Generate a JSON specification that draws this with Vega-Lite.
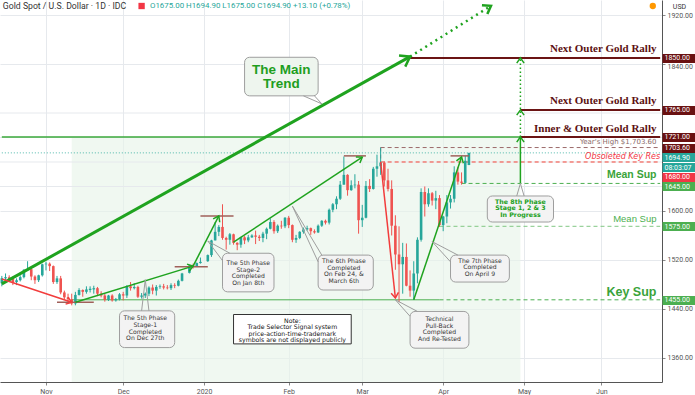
{
"$schema": "https://vega.github.io/schema/vega-lite/v6.json",
"width": 662, "height": 382,
"autosize": {"type": "none"},
"padding": {"left": 0, "top": 0, "right": 33, "bottom": 13},
"background": "#ffffff",
"config": {"view": {"stroke": null}, "font": "Roboto"},
"datasets": {
"candles": [
{"date":"2019-10-16","open":1482,"high":1494,"low":1477,"close":1490},
{"date":"2019-10-17","open":1490,"high":1498,"low":1484,"close":1492},
{"date":"2019-10-18","open":1492,"high":1495,"low":1484,"close":1489},
{"date":"2019-10-21","open":1489,"high":1493,"low":1479,"close":1484},
{"date":"2019-10-22","open":1484,"high":1490,"low":1479,"close":1487},
{"date":"2019-10-23","open":1487,"high":1495,"low":1485,"close":1492},
{"date":"2019-10-24","open":1492,"high":1505,"low":1490,"close":1504},
{"date":"2019-10-25","open":1504,"high":1518,"low":1502,"close":1505},
{"date":"2019-10-28","open":1505,"high":1507,"low":1487,"close":1493},
{"date":"2019-10-29","open":1493,"high":1495,"low":1481,"close":1487},
{"date":"2019-10-30","open":1487,"high":1496,"low":1484,"close":1495},
{"date":"2019-10-31","open":1495,"high":1514,"low":1493,"close":1513},
{"date":"2019-11-01","open":1513,"high":1517,"low":1503,"close":1514},
{"date":"2019-11-04","open":1514,"high":1516,"low":1502,"close":1510},
{"date":"2019-11-05","open":1510,"high":1511,"low":1481,"close":1484},
{"date":"2019-11-06","open":1484,"high":1494,"low":1481,"close":1490},
{"date":"2019-11-07","open":1490,"high":1494,"low":1464,"close":1467},
{"date":"2019-11-08","open":1467,"high":1470,"low":1456,"close":1459},
{"date":"2019-11-11","open":1459,"high":1465,"low":1450,"close":1456},
{"date":"2019-11-12","open":1456,"high":1465,"low":1446,"close":1449},
{"date":"2019-11-13","open":1449,"high":1468,"low":1446,"close":1463},
{"date":"2019-11-14","open":1463,"high":1474,"low":1462,"close":1471},
{"date":"2019-11-15","open":1471,"high":1472,"low":1460,"close":1468},
{"date":"2019-11-18","open":1468,"high":1477,"low":1465,"close":1472},
{"date":"2019-11-19","open":1471,"high":1477,"low":1467,"close":1473},
{"date":"2019-11-20","open":1472,"high":1478,"low":1465,"close":1474},
{"date":"2019-11-21","open":1474,"high":1476,"low":1461,"close":1465},
{"date":"2019-11-22","open":1465,"high":1469,"low":1459,"close":1462},
{"date":"2019-11-25","open":1462,"high":1465,"low":1452,"close":1455},
{"date":"2019-11-26","open":1455,"high":1463,"low":1453,"close":1462},
{"date":"2019-11-27","open":1462,"high":1464,"low":1452,"close":1454},
{"date":"2019-11-28","open":1454,"high":1458,"low":1452,"close":1456},
{"date":"2019-11-29","open":1456,"high":1466,"low":1454,"close":1464},
{"date":"2019-12-02","open":1464,"high":1468,"low":1454,"close":1462},
{"date":"2019-12-03","open":1462,"high":1479,"low":1458,"close":1477},
{"date":"2019-12-04","open":1477,"high":1484,"low":1470,"close":1474},
{"date":"2019-12-05","open":1474,"high":1482,"low":1472,"close":1476},
{"date":"2019-12-06","open":1476,"high":1478,"low":1458,"close":1460},
{"date":"2019-12-09","open":1460,"high":1466,"low":1457,"close":1462},
{"date":"2019-12-10","open":1462,"high":1467,"low":1458,"close":1465},
{"date":"2019-12-11","open":1465,"high":1477,"low":1461,"close":1475},
{"date":"2019-12-12","open":1475,"high":1480,"low":1464,"close":1470},
{"date":"2019-12-13","open":1470,"high":1479,"low":1462,"close":1476},
{"date":"2019-12-16","open":1476,"high":1480,"low":1473,"close":1477},
{"date":"2019-12-17","open":1477,"high":1481,"low":1472,"close":1475},
{"date":"2019-12-18","open":1475,"high":1479,"low":1472,"close":1474},
{"date":"2019-12-19","open":1474,"high":1482,"low":1471,"close":1479},
{"date":"2019-12-20","open":1479,"high":1482,"low":1474,"close":1478},
{"date":"2019-12-23","open":1478,"high":1488,"low":1477,"close":1486},
{"date":"2019-12-24","open":1486,"high":1499,"low":1485,"close":1498},
{"date":"2019-12-26","open":1499,"high":1512,"low":1498,"close":1511},
{"date":"2019-12-27","open":1511,"high":1514,"low":1506,"close":1510},
{"date":"2019-12-30","open":1510,"high":1516,"low":1509,"close":1515},
{"date":"2019-12-31","open":1515,"high":1524,"low":1514,"close":1517},
{"date":"2020-01-02","open":1518,"high":1529,"low":1517,"close":1528},
{"date":"2020-01-03","open":1528,"high":1553,"low":1525,"close":1552},
{"date":"2020-01-06","open":1552,"high":1582,"low":1552,"close":1566},
{"date":"2020-01-07","open":1566,"high":1577,"low":1559,"close":1574},
{"date":"2020-01-08","open":1574,"high":1611,"low":1553,"close":1556},
{"date":"2020-01-09","open":1556,"high":1558,"low":1537,"close":1553},
{"date":"2020-01-10","open":1553,"high":1564,"low":1545,"close":1562},
{"date":"2020-01-13","open":1562,"high":1563,"low":1545,"close":1548},
{"date":"2020-01-14","open":1548,"high":1549,"low":1536,"close":1545},
{"date":"2020-01-15","open":1545,"high":1558,"low":1540,"close":1557},
{"date":"2020-01-16","open":1557,"high":1559,"low":1546,"close":1552},
{"date":"2020-01-17","open":1552,"high":1561,"low":1549,"close":1557},
{"date":"2020-01-20","open":1557,"high":1562,"low":1556,"close":1560},
{"date":"2020-01-21","open":1560,"high":1568,"low":1546,"close":1558},
{"date":"2020-01-22","open":1558,"high":1561,"low":1551,"close":1556},
{"date":"2020-01-23","open":1556,"high":1566,"low":1549,"close":1563},
{"date":"2020-01-24","open":1563,"high":1573,"low":1554,"close":1571},
{"date":"2020-01-27","open":1571,"high":1588,"low":1570,"close":1582},
{"date":"2020-01-28","open":1582,"high":1585,"low":1563,"close":1567},
{"date":"2020-01-29","open":1567,"high":1578,"low":1564,"close":1576},
{"date":"2020-01-30","open":1576,"high":1584,"low":1571,"close":1575},
{"date":"2020-01-31","open":1575,"high":1590,"low":1572,"close":1589},
{"date":"2020-02-03","open":1589,"high":1592,"low":1572,"close":1577},
{"date":"2020-02-04","open":1577,"high":1578,"low":1549,"close":1553},
{"date":"2020-02-05","open":1553,"high":1561,"low":1548,"close":1556},
{"date":"2020-02-06","open":1556,"high":1567,"low":1554,"close":1566},
{"date":"2020-02-07","open":1566,"high":1573,"low":1563,"close":1570},
{"date":"2020-02-10","open":1570,"high":1576,"low":1568,"close":1572},
{"date":"2020-02-11","open":1572,"high":1573,"low":1561,"close":1567},
{"date":"2020-02-12","open":1567,"high":1570,"low":1563,"close":1565},
{"date":"2020-02-13","open":1565,"high":1578,"low":1564,"close":1576},
{"date":"2020-02-14","open":1576,"high":1585,"low":1574,"close":1584},
{"date":"2020-02-17","open":1584,"high":1586,"low":1578,"close":1581},
{"date":"2020-02-18","open":1581,"high":1604,"low":1578,"close":1602},
{"date":"2020-02-19","open":1602,"high":1613,"low":1598,"close":1611},
{"date":"2020-02-20","open":1611,"high":1624,"low":1603,"close":1620},
{"date":"2020-02-21","open":1620,"high":1649,"low":1618,"close":1643},
{"date":"2020-02-24","open":1643,"high":1689,"low":1643,"close":1659},
{"date":"2020-02-25","open":1659,"high":1660,"low":1625,"close":1634},
{"date":"2020-02-26","open":1634,"high":1650,"low":1633,"close":1642},
{"date":"2020-02-27","open":1642,"high":1660,"low":1637,"close":1643},
{"date":"2020-02-28","open":1643,"high":1649,"low":1563,"close":1585},
{"date":"2020-03-02","open":1585,"high":1610,"low":1574,"close":1589},
{"date":"2020-03-03","open":1589,"high":1649,"low":1588,"close":1641},
{"date":"2020-03-04","open":1641,"high":1652,"low":1631,"close":1636},
{"date":"2020-03-05","open":1636,"high":1672,"low":1635,"close":1669},
{"date":"2020-03-06","open":1669,"high":1692,"low":1656,"close":1673},
{"date":"2020-03-09","open":1673,"high":1703.6,"low":1659,"close":1679},
{"date":"2020-03-10","open":1679,"high":1681,"low":1640,"close":1650},
{"date":"2020-03-11","open":1650,"high":1669,"low":1632,"close":1636},
{"date":"2020-03-12","open":1636,"high":1650,"low":1560,"close":1576},
{"date":"2020-03-13","open":1576,"high":1593,"low":1504,"close":1529},
{"date":"2020-03-16","open":1529,"high":1575,"low":1451,"close":1513},
{"date":"2020-03-17","open":1513,"high":1548,"low":1465,"close":1525},
{"date":"2020-03-18","open":1525,"high":1547,"low":1477,"close":1478},
{"date":"2020-03-19","open":1478,"high":1503,"low":1460,"close":1470},
{"date":"2020-03-20","open":1470,"high":1518,"low":1455,"close":1498},
{"date":"2020-03-23","open":1498,"high":1557,"low":1482,"close":1553},
{"date":"2020-03-24","open":1553,"high":1637,"low":1550,"close":1631},
{"date":"2020-03-25","open":1631,"high":1640,"low":1591,"close":1611},
{"date":"2020-03-26","open":1611,"high":1637,"low":1607,"close":1629},
{"date":"2020-03-27","open":1629,"high":1631,"low":1609,"close":1617},
{"date":"2020-03-30","open":1617,"high":1633,"low":1603,"close":1621},
{"date":"2020-03-31","open":1621,"high":1626,"low":1574,"close":1577},
{"date":"2020-04-01","open":1577,"high":1592,"low":1567,"close":1591},
{"date":"2020-04-02","open":1591,"high":1626,"low":1580,"close":1614},
{"date":"2020-04-03","open":1614,"high":1626,"low":1604,"close":1620},
{"date":"2020-04-06","open":1620,"high":1673,"low":1614,"close":1663},
{"date":"2020-04-07","open":1663,"high":1672,"low":1643,"close":1648},
{"date":"2020-04-08","open":1648,"high":1663,"low":1643,"close":1646},
{"date":"2020-04-09","open":1646,"high":1690,"low":1645,"close":1682},
{"date":"2020-04-10","open":1675,"high":1694.9,"low":1675,"close":1694.9}
],
"lines": [
{"name":"l1850","date":"2020-03-19","price":1850},{"name":"l1850","date":"2020-06-23","price":1850},
{"name":"l1765","date":"2020-04-30","price":1765},{"name":"l1765","date":"2020-06-23","price":1765},
{"name":"l1721r","date":"2020-04-30","price":1721},{"name":"l1721r","date":"2020-06-23","price":1721},
{"name":"l1721g","date":"2019-10-16","price":1721},{"name":"l1721g","date":"2020-04-30","price":1721},
{"name":"l1455s","date":"2019-11-12","price":1455},{"name":"l1455s","date":"2020-03-31","price":1455},
{"name":"l1703","date":"2020-03-09","price":1703.6},{"name":"l1703","date":"2020-06-23","price":1703.6},
{"name":"l1703v","date":"2020-03-09","price":1703.6},{"name":"l1703v","date":"2020-03-09","price":1680},
{"name":"l1680","date":"2020-03-09","price":1680},{"name":"l1680","date":"2020-06-23","price":1680},
{"name":"l1645","date":"2020-04-08","price":1645},{"name":"l1645","date":"2020-06-23","price":1645},
{"name":"l1575","date":"2020-03-31","price":1575},{"name":"l1575","date":"2020-06-23","price":1575},
{"name":"l1455d","date":"2020-03-31","price":1455},{"name":"l1455d","date":"2020-06-23","price":1455},
{"name":"l1695","date":"2019-10-16","price":1694.9},{"name":"l1695","date":"2020-06-23","price":1694.9},
{"name":"main","date":"2019-10-16","price":1481},{"name":"main","date":"2020-03-19","price":1852},
{"name":"mainDot","date":"2020-03-19","price":1852},{"name":"mainDot","date":"2020-04-20","price":1935},
{"name":"red1","date":"2019-10-16","price":1489},{"name":"red1","date":"2019-11-12","price":1451},
{"name":"red5","date":"2020-03-09","price":1680},{"name":"red5","date":"2020-03-13","price":1458},
{"name":"g2","date":"2019-11-13","price":1451},{"name":"g2","date":"2019-12-27","price":1510},
{"name":"g3","date":"2019-12-27","price":1510},{"name":"g3","date":"2020-01-07","price":1592},
{"name":"g4","date":"2020-01-13","price":1549},{"name":"g4","date":"2020-03-02","price":1688},
{"name":"g6","date":"2020-03-20","price":1455},{"name":"g6","date":"2020-04-08","price":1688},
{"name":"v8","date":"2020-04-30","price":1645},{"name":"v8","date":"2020-04-30","price":1721},
{"name":"v8dot","date":"2020-04-30","price":1721},{"name":"v8dot","date":"2020-04-30","price":1850},
{"name":"m1","date":"2019-11-06","price":1451},{"name":"m1","date":"2019-11-20","price":1451},
{"name":"m2","date":"2019-12-20","price":1509},{"name":"m2","date":"2020-01-02","price":1509},
{"name":"m3","date":"2019-12-31","price":1592},{"name":"m3","date":"2020-01-13","price":1592},
{"name":"m4","date":"2020-02-24","price":1690},{"name":"m4","date":"2020-03-03","price":1690},
{"name":"m6","date":"2020-04-03","price":1690},{"name":"m6","date":"2020-04-10","price":1690}
],
"tips": [
{"name":"main","date":"2020-03-19","price":1852},
{"name":"mainDot","date":"2020-04-20","price":1935},
{"name":"red1","date":"2019-11-12","price":1451},
{"name":"g2","date":"2019-12-27","price":1510},
{"name":"g3","date":"2020-01-07","price":1592},
{"name":"g4","date":"2020-03-02","price":1688},
{"name":"red5","date":"2020-03-13","price":1458},
{"name":"g6","date":"2020-04-08","price":1688},
{"name":"v1","date":"2020-04-30","price":1721},
{"name":"v2","date":"2020-04-30","price":1765},
{"name":"v3","date":"2020-04-30","price":1850}
],
"boxes": [
{"name":"main","start":"2020-01-16","end":"2020-02-13","top":1851,"bottom":1788},
{"name":"s1","start":"2019-11-29","end":"2019-12-20","top":1437,"bottom":1377},
{"name":"s2","start":"2020-01-08","end":"2020-01-28","top":1531,"bottom":1468},
{"name":"p6","start":"2020-02-13","end":"2020-03-05","top":1528,"bottom":1471},
{"name":"tp","start":"2020-03-19","end":"2020-04-10","top":1436,"bottom":1376},
{"name":"p7","start":"2020-04-03","end":"2020-04-27","top":1528,"bottom":1484},
{"name":"p8","start":"2020-04-17","end":"2020-05-13","top":1624.5,"bottom":1582},
{"name":"note","start":"2020-01-13","end":"2020-02-26","top":1431,"bottom":1383}
],
"tails": [
{"name":"main","ord":1,"date":"2020-02-07","price":1788},{"name":"main","ord":2,"date":"2020-02-14","price":1775},{"name":"main","ord":3,"date":"2020-02-12","price":1788},
{"name":"s1","ord":1,"date":"2019-12-09","price":1437},{"name":"s1","ord":2,"date":"2019-12-10","price":1488},{"name":"s1","ord":3,"date":"2019-12-11","price":1437},
{"name":"s2","ord":1,"date":"2020-01-08","price":1519},{"name":"s2","ord":2,"date":"2020-01-02","price":1551},{"name":"s2","ord":3,"date":"2020-01-10","price":1531},
{"name":"p6","ord":1,"date":"2020-02-13","price":1517},{"name":"p6","ord":2,"date":"2020-02-04","price":1608},{"name":"p6","ord":3,"date":"2020-02-14","price":1528},
{"name":"tp","ord":1,"date":"2020-03-19","price":1428},{"name":"tp","ord":2,"date":"2020-03-13","price":1455},{"name":"tp","ord":3,"date":"2020-03-23","price":1436},
{"name":"p7","ord":1,"date":"2020-04-03","price":1517},{"name":"p7","ord":2,"date":"2020-03-27","price":1550},{"name":"p7","ord":3,"date":"2020-04-07","price":1528},
{"name":"p8","ord":1,"date":"2020-04-29","price":1624.5},{"name":"p8","ord":2,"date":"2020-04-30","price":1645},{"name":"p8","ord":3,"date":"2020-05-01","price":1624.5}
],
"notes": [
{"name":"main","date":"2020-01-30","price":1830,"text":"The Main\nTrend"},
{"name":"s1","date":"2019-12-10","price":1424.5,"text":"The 5th Phase\nStage-1\nCompleted\nOn Dec 27th"},
{"name":"s2","date":"2020-01-17","price":1515,"text":"The 5th Phase\nStage-2\nCompleted\nOn Jan 8th"},
{"name":"p6","date":"2020-02-24","price":1518.4,"text":"The 6th Phase\nCompleted\nOn Feb 24, &\nMarch 6th"},
{"name":"note","date":"2020-02-04","price":1421,"text":"Note:\nTrade Selector Signal system\nprice-action-time-trademark\nsymbols are not displayed publicly"},
{"name":"tp","date":"2020-03-31","price":1423.2,"text":"Technical\nPull-Back\nCompleted\nAnd Re-Tested"},
{"name":"p7","date":"2020-04-15","price":1518.9,"text":"The 7th Phase\nCompleted\nOn April 9"},
{"name":"p8","date":"2020-04-30","price":1615.2,"text":"The 8th Phase\nStage 1, 2 & 3\nIn Progress"}
],
"rlabels": [
{"name":"rally","date":"2020-06-22","price":1864,"text":"Next Outer Gold Rally"},
{"name":"rally","date":"2020-06-22","price":1779.5,"text":"Next Outer Gold Rally"},
{"name":"rally","date":"2020-06-22","price":1734,"text":"Inner & Outer Gold Rally"},
{"name":"high","date":"2020-06-22","price":1712.7,"text":"Year's High $1,703.60"},
{"name":"obs","date":"2020-06-23","price":1688,"text":"Obsoleted Key Res"},
{"name":"mean1","date":"2020-06-22","price":1659,"text":"Mean Sup"},
{"name":"mean2","date":"2020-06-22","price":1587,"text":"Mean Sup"},
{"name":"key","date":"2020-06-22","price":1468,"text":"Key Sup"}
],
"header": [
{"name":"title","date":"2019-10-16","price":1934.7,"text":"Gold Spot / U.S. Dollar · 1D · IDC"},
{"name":"ohlc","date":"2019-12-11","price":1934.7,"text":"O1675.00 H1694.90 L1675.00 C1694.90 +13.10 (+0.78%)"}
],
"icons": [
{"name":"closed","date":"2019-12-09","price":1934.7},
{"name":"alert","date":"2020-06-19","price":1934.7}
]
},
"layer": [
{"layer": [
{
"data": {"values": [{"start": "2019-11-12", "end": "2020-04-30", "top": 1721, "bottom": 1320.8}]},
"mark": {"type": "rect", "color": "#e8f5e9", "opacity": 0.65},
"encoding": {
"x": {"field": "start", "type": "ordinal",
"scale": {"type": "point", "padding": 0.5, "domain": [
"2019-10-16","2019-10-17","2019-10-18","2019-10-21","2019-10-22","2019-10-23","2019-10-24","2019-10-25","2019-10-28","2019-10-29","2019-10-30","2019-10-31",
"2019-11-01","2019-11-04","2019-11-05","2019-11-06","2019-11-07","2019-11-08","2019-11-11","2019-11-12","2019-11-13","2019-11-14","2019-11-15","2019-11-18","2019-11-19","2019-11-20","2019-11-21","2019-11-22","2019-11-25","2019-11-26","2019-11-27","2019-11-28","2019-11-29",
"2019-12-02","2019-12-03","2019-12-04","2019-12-05","2019-12-06","2019-12-09","2019-12-10","2019-12-11","2019-12-12","2019-12-13","2019-12-16","2019-12-17","2019-12-18","2019-12-19","2019-12-20","2019-12-23","2019-12-24","2019-12-25","2019-12-26","2019-12-27","2019-12-30","2019-12-31",
"2020-01-01","2020-01-02","2020-01-03","2020-01-06","2020-01-07","2020-01-08","2020-01-09","2020-01-10","2020-01-13","2020-01-14","2020-01-15","2020-01-16","2020-01-17","2020-01-20","2020-01-21","2020-01-22","2020-01-23","2020-01-24","2020-01-27","2020-01-28","2020-01-29","2020-01-30","2020-01-31",
"2020-02-03","2020-02-04","2020-02-05","2020-02-06","2020-02-07","2020-02-10","2020-02-11","2020-02-12","2020-02-13","2020-02-14","2020-02-17","2020-02-18","2020-02-19","2020-02-20","2020-02-21","2020-02-24","2020-02-25","2020-02-26","2020-02-27","2020-02-28",
"2020-03-02","2020-03-03","2020-03-04","2020-03-05","2020-03-06","2020-03-09","2020-03-10","2020-03-11","2020-03-12","2020-03-13","2020-03-16","2020-03-17","2020-03-18","2020-03-19","2020-03-20","2020-03-23","2020-03-24","2020-03-25","2020-03-26","2020-03-27","2020-03-30","2020-03-31",
"2020-04-01","2020-04-02","2020-04-03","2020-04-06","2020-04-07","2020-04-08","2020-04-09","2020-04-10","2020-04-13","2020-04-14","2020-04-15","2020-04-16","2020-04-17","2020-04-20","2020-04-21","2020-04-22","2020-04-23","2020-04-24","2020-04-27","2020-04-28","2020-04-29","2020-04-30",
"2020-05-01","2020-05-04","2020-05-05","2020-05-06","2020-05-07","2020-05-08","2020-05-11","2020-05-12","2020-05-13","2020-05-14","2020-05-15","2020-05-18","2020-05-19","2020-05-20","2020-05-21","2020-05-22","2020-05-25","2020-05-26","2020-05-27","2020-05-28","2020-05-29",
"2020-06-01","2020-06-02","2020-06-03","2020-06-04","2020-06-05","2020-06-08","2020-06-09","2020-06-10","2020-06-11","2020-06-12","2020-06-15","2020-06-16","2020-06-17","2020-06-18","2020-06-19","2020-06-22","2020-06-23"]},
"axis": {"title": null, "orient": "bottom", "zindex": 0,
"values": ["2019-11-01","2019-12-02","2020-01-01","2020-02-03","2020-03-02","2020-04-01","2020-05-01","2020-06-01"],
"labelExpr": "datum.value == '2019-11-01' ? 'Nov' : datum.value == '2019-12-02' ? 'Dec' : datum.value == '2020-01-01' ? '2020' : datum.value == '2020-02-03' ? 'Feb' : datum.value == '2020-03-02' ? 'Mar' : datum.value == '2020-04-01' ? 'Apr' : datum.value == '2020-05-01' ? 'May' : 'Jun'",
"grid": true, "gridColor": "#e6e9ed", "tickSize": 3, "tickColor": "#888888", "domainColor": "#555555",
"labelFontSize": 7, "labelColor": "#555555", "labelPadding": 2, "labelAngle": 0, "labelOverlap": false, "labelFlush": false, "labelFont": "Roboto"}},
"x2": {"field": "end"},
"y": {"field": "top", "type": "quantitative",
"scale": {"domain": [1320.8, 1944.5], "nice": false, "zero": false},
"axis": {"title": "USD", "orient": "right", "zindex": 0,
"values": [1360,1400,1440,1480,1520,1560,1600,1800,1840,1880,1920],
"format": ".2f", "grid": true, "gridColor": "#e6e9ed", "tickSize": 3, "tickColor": "#888888", "domainColor": "#555555",
"labelFontSize": 7, "labelColor": "#555555", "labelPadding": 2, "labelOverlap": false, "labelFlush": false, "labelBound": false, "labelFont": "Roboto",
"labelOffset": {"condition": {"test": "datum.value == 1840", "value": 2}, "value": 0},
"titleAngle": 0, "titleX": 17, "titleY": 6, "titleAlign": "center", "titleBaseline": "middle", "titleFontSize": 7, "titleFontWeight": "normal", "titleColor": "#333333", "titleFont": "Roboto"}},
"y2": {"field": "bottom"}
}
},
{
"data": {"values": [{"price": 1640}, {"price": 1680}, {"price": 1720}, {"price": 1760}]},
"mark": {"type": "rule", "color": "#e6e9ed", "strokeWidth": 1},
"encoding": {"y": {"field": "price", "type": "quantitative"}}
},
{
"data": {"name": "lines"},
"transform": [{"filter": {"field": "name", "oneOf": ["l1721g"]}}],
"mark": {"type": "line", "color": "#3aa83a", "strokeWidth": 1.5},
"encoding": {"x": {"field": "date", "type": "ordinal"}, "y": {"field": "price", "type": "quantitative"}, "detail": {"field": "name"}}
},
{
"data": {"name": "lines"},
"transform": [{"filter": {"field": "name", "oneOf": ["l1455s"]}}],
"mark": {"type": "line", "color": "#4caf50", "strokeWidth": 1},
"encoding": {"x": {"field": "date", "type": "ordinal"}, "y": {"field": "price", "type": "quantitative"}, "detail": {"field": "name"}}
},
{
"data": {"name": "lines"},
"transform": [{"filter": {"field": "name", "oneOf": ["l1703", "l1703v", "l1680", "l1645", "l1575", "l1455d"]}}],
"mark": {"type": "line", "strokeWidth": 1, "strokeDash": [4, 3]},
"encoding": {"x": {"field": "date", "type": "ordinal"}, "y": {"field": "price", "type": "quantitative"}, "detail": {"field": "name"},
"color": {"condition": [
{"test": "datum.name == 'l1703' || datum.name == 'l1703v'", "value": "#9c6b6b"},
{"test": "datum.name == 'l1680'", "value": "#f44336"},
{"test": "datum.name == 'l1575'", "value": "#81c784"}], "value": "#4caf50"}}
},
{
"data": {"name": "lines"},
"transform": [{"filter": {"field": "name", "oneOf": ["l1695"]}}],
"mark": {"type": "line", "color": "#26a69a", "strokeWidth": 1, "strokeDash": [1, 2], "opacity": 0.8},
"encoding": {"x": {"field": "date", "type": "ordinal"}, "y": {"field": "price", "type": "quantitative"}, "detail": {"field": "name"}}
},
{
"data": {"name": "lines"},
"transform": [{"filter": {"field": "name", "oneOf": ["l1850", "l1765", "l1721r"]}}],
"mark": {"type": "line", "color": "#6b1414", "strokeWidth": 2},
"encoding": {"x": {"field": "date", "type": "ordinal"}, "y": {"field": "price", "type": "quantitative"}, "detail": {"field": "name"}}
},
{
"data": {"name": "candles"},
"mark": {"type": "rule", "strokeWidth": 1},
"encoding": {"x": {"field": "date", "type": "ordinal"}, "y": {"field": "low", "type": "quantitative"}, "y2": {"field": "high"},
"color": {"condition": {"test": "datum.close >= datum.open", "value": "#26a69a"}, "value": "#ef5350"}}
},
{
"data": {"name": "candles"},
"mark": {"type": "bar", "size": 2.6},
"encoding": {"x": {"field": "date", "type": "ordinal"}, "y": {"field": "open", "type": "quantitative"}, "y2": {"field": "close"},
"color": {"condition": {"test": "datum.close >= datum.open", "value": "#26a69a"}, "value": "#ef5350"}}
},
{
"data": {"name": "lines"},
"transform": [{"filter": {"field": "name", "oneOf": ["m1", "m2", "m3", "m4", "m6"]}}],
"mark": {"type": "line", "color": "#a0605a", "strokeWidth": 1.5},
"encoding": {"x": {"field": "date", "type": "ordinal"}, "y": {"field": "price", "type": "quantitative"}, "detail": {"field": "name"}}
},
{
"data": {"name": "lines"},
"transform": [{"filter": {"field": "name", "oneOf": ["main"]}}],
"mark": {"type": "line", "color": "#1fa31f", "strokeWidth": 3},
"encoding": {"x": {"field": "date", "type": "ordinal"}, "y": {"field": "price", "type": "quantitative"}, "detail": {"field": "name"}}
},
{
"data": {"name": "lines"},
"transform": [{"filter": {"field": "name", "oneOf": ["mainDot"]}}],
"mark": {"type": "line", "color": "#1fa31f", "strokeWidth": 2.5, "strokeDash": [2, 4]},
"encoding": {"x": {"field": "date", "type": "ordinal"}, "y": {"field": "price", "type": "quantitative"}, "detail": {"field": "name"}}
},
{
"data": {"name": "lines"},
"transform": [{"filter": {"field": "name", "oneOf": ["v8dot"]}}],
"mark": {"type": "line", "color": "#1fa31f", "strokeWidth": 1.5, "strokeDash": [1.5, 2.5]},
"encoding": {"x": {"field": "date", "type": "ordinal"}, "y": {"field": "price", "type": "quantitative"}, "detail": {"field": "name"}}
},
{
"data": {"name": "lines"},
"transform": [{"filter": {"field": "name", "oneOf": ["g2", "g3", "g4", "g6", "v8"]}}],
"mark": {"type": "line", "color": "#1fa31f", "strokeWidth": 1.5},
"encoding": {"x": {"field": "date", "type": "ordinal"}, "y": {"field": "price", "type": "quantitative"}, "detail": {"field": "name"}}
},
{
"data": {"name": "lines"},
"transform": [{"filter": {"field": "name", "oneOf": ["red1", "red5"]}}],
"mark": {"type": "line", "color": "#f23c3c", "strokeWidth": 1.5},
"encoding": {"x": {"field": "date", "type": "ordinal"}, "y": {"field": "price", "type": "quantitative"}, "detail": {"field": "name"}}
},
{
"data": {"name": "tips"},
"mark": {"type": "point", "shape": "M -1 -0.7 L 0 0 L -1 0.7", "filled": false, "opacity": 1},
"encoding": {"x": {"field": "date", "type": "ordinal"}, "y": {"field": "price", "type": "quantitative"},
"angle": {"condition": [
{"test": "datum.name == 'main'", "value": 330.7},
{"test": "datum.name == 'mainDot'", "value": 328.8},
{"test": "datum.name == 'red1'", "value": 18},
{"test": "datum.name == 'g2'", "value": 343},
{"test": "datum.name == 'g3'", "value": 297},
{"test": "datum.name == 'g4'", "value": 326.6},
{"test": "datum.name == 'red5'", "value": 84},
{"test": "datum.name == 'g6'", "value": 288.5}], "value": 270},
"color": {"condition": {"test": "datum.name == 'red1' || datum.name == 'red5'", "value": "#f23c3c"}, "value": "#1fa31f"},
"size": {"condition": [{"test": "datum.name == 'main'", "value": 330}, {"test": "datum.name == 'mainDot'", "value": 220}], "value": 110},
"strokeWidth": {"condition": {"test": "datum.name == 'main' || datum.name == 'mainDot'", "value": 2.5}, "value": 1.5}}
},
{
"data": {"name": "boxes"},
"transform": [{"filter": "datum.name != 'note'"}],
"mark": {"type": "rect", "cornerRadius": 5, "stroke": "#9e9e9e", "strokeWidth": 1},
"encoding": {"x": {"field": "start", "type": "ordinal"}, "x2": {"field": "end"}, "y": {"field": "top", "type": "quantitative"}, "y2": {"field": "bottom"},
"fill": {"condition": {"test": "datum.name == 'main'", "value": "#eef5ee"}, "value": "#f3f3f3"}}
},
{
"data": {"name": "boxes"},
"transform": [{"filter": "datum.name == 'note'"}],
"mark": {"type": "rect", "fill": "#ffffff", "stroke": "#333333", "strokeWidth": 1},
"encoding": {"x": {"field": "start", "type": "ordinal"}, "x2": {"field": "end"}, "y": {"field": "top", "type": "quantitative"}, "y2": {"field": "bottom"}}
},
{
"data": {"name": "tails"},
"mark": {"type": "line", "color": "#9e9e9e", "strokeWidth": 1},
"encoding": {"x": {"field": "date", "type": "ordinal"}, "y": {"field": "price", "type": "quantitative"}, "detail": {"field": "name"}, "order": {"field": "ord"}}
},
{
"data": {"name": "notes"},
"transform": [{"filter": "datum.name == 'main'"}],
"mark": {"type": "text", "font": "Liberation Sans", "fontWeight": "bold", "fontSize": 13.5, "lineHeight": 13.5, "lineBreak": "\n", "color": "#1e9e1e", "align": "center", "baseline": "middle"},
"encoding": {"x": {"field": "date", "type": "ordinal"}, "y": {"field": "price", "type": "quantitative"}, "text": {"field": "text"}}
},
{
"data": {"name": "notes"},
"transform": [{"filter": {"field": "name", "oneOf": ["s1", "s2", "p6", "tp", "p7"]}}],
"mark": {"type": "text", "font": "DejaVu Sans", "fontSize": 6.1, "lineHeight": 6.6, "lineBreak": "\n", "color": "#333333", "align": "center", "baseline": "middle"},
"encoding": {"x": {"field": "date", "type": "ordinal"}, "y": {"field": "price", "type": "quantitative"}, "text": {"field": "text"}}
},
{
"data": {"name": "notes"},
"transform": [{"filter": "datum.name == 'note'"}],
"mark": {"type": "text", "font": "DejaVu Sans", "fontSize": 6.2, "lineHeight": 6.6, "lineBreak": "\n", "color": "#111111", "align": "center", "baseline": "middle"},
"encoding": {"x": {"field": "date", "type": "ordinal"}, "y": {"field": "price", "type": "quantitative"}, "text": {"field": "text"}}
},
{
"data": {"name": "notes"},
"transform": [{"filter": "datum.name == 'p8'"}],
"mark": {"type": "text", "font": "DejaVu Sans", "fontWeight": "bold", "fontSize": 6.3, "lineHeight": 6.7, "lineBreak": "\n", "color": "#22a022", "align": "center", "baseline": "middle"},
"encoding": {"x": {"field": "date", "type": "ordinal"}, "y": {"field": "price", "type": "quantitative"}, "text": {"field": "text"}}
},
{
"data": {"name": "rlabels"},
"transform": [{"filter": "datum.name == 'rally'"}],
"mark": {"type": "text", "font": "Liberation Serif", "fontWeight": "bold", "fontSize": 11, "color": "#5c1111", "align": "right", "baseline": "middle"},
"encoding": {"x": {"field": "date", "type": "ordinal"}, "y": {"field": "price", "type": "quantitative"}, "text": {"field": "text"}}
},
{
"data": {"name": "rlabels"},
"transform": [{"filter": "datum.name == 'high'"}],
"mark": {"type": "text", "font": "DejaVu Sans", "fontSize": 7, "color": "#8a6a6a", "align": "right", "baseline": "middle"},
"encoding": {"x": {"field": "date", "type": "ordinal"}, "y": {"field": "price", "type": "quantitative"}, "text": {"field": "text"}}
},
{
"data": {"name": "rlabels"},
"transform": [{"filter": "datum.name == 'obs'"}],
"mark": {"type": "text", "font": "DejaVu Sans", "fontStyle": "italic", "fontSize": 8, "color": "#f23645", "align": "right", "baseline": "middle"},
"encoding": {"x": {"field": "date", "type": "ordinal"}, "y": {"field": "price", "type": "quantitative"}, "text": {"field": "text"}}
},
{
"data": {"name": "rlabels"},
"transform": [{"filter": "datum.name == 'mean1'"}],
"mark": {"type": "text", "font": "Liberation Sans", "fontWeight": "bold", "fontSize": 10.5, "color": "#3aa33a", "align": "right", "baseline": "middle"},
"encoding": {"x": {"field": "date", "type": "ordinal"}, "y": {"field": "price", "type": "quantitative"}, "text": {"field": "text"}}
},
{
"data": {"name": "rlabels"},
"transform": [{"filter": "datum.name == 'key'"}],
"mark": {"type": "text", "font": "Liberation Sans", "fontWeight": "bold", "fontSize": 12.5, "color": "#3aa33a", "align": "right", "baseline": "middle"},
"encoding": {"x": {"field": "date", "type": "ordinal"}, "y": {"field": "price", "type": "quantitative"}, "text": {"field": "text"}}
},
{
"data": {"name": "rlabels"},
"transform": [{"filter": "datum.name == 'mean2'"}],
"mark": {"type": "text", "font": "Liberation Sans", "fontSize": 9.5, "color": "#4caf50", "align": "right", "baseline": "middle"},
"encoding": {"x": {"field": "date", "type": "ordinal"}, "y": {"field": "price", "type": "quantitative"}, "text": {"field": "text"}}
},
{
"data": {"name": "header"},
"transform": [{"filter": "datum.name == 'title'"}],
"mark": {"type": "text", "font": "Roboto", "fontSize": 8.7, "color": "#333333", "align": "left", "baseline": "middle", "dx": 1},
"encoding": {"x": {"field": "date", "type": "ordinal"}, "y": {"field": "price", "type": "quantitative"}, "text": {"field": "text"}}
},
{
"data": {"name": "header"},
"transform": [{"filter": "datum.name == 'ohlc'"}],
"mark": {"type": "text", "font": "Roboto", "fontSize": 7.9, "color": "#26a69a", "align": "left", "baseline": "middle", "dx": 1},
"encoding": {"x": {"field": "date", "type": "ordinal"}, "y": {"field": "price", "type": "quantitative"}, "text": {"field": "text"}}
},
{
"data": {"name": "icons"},
"mark": {"type": "point", "filled": true, "opacity": 1},
"encoding": {"x": {"field": "date", "type": "ordinal"}, "y": {"field": "price", "type": "quantitative"},
"shape": {"condition": {"test": "datum.name == 'closed'", "value": "square"}, "value": "circle"},
"color": {"condition": {"test": "datum.name == 'closed'", "value": "#f23645"}, "value": "#ff9800"},
"size": {"value": 40}}
}
]},
{
"data": {"values": [{"price": 1455}]},
"mark": {"type": "point", "opacity": 0},
"encoding": {
"y": {"field": "price", "type": "quantitative",
"scale": {"domain": [1320.8, 1944.5], "nice": false, "zero": false},
"axis": {"title": null, "orient": "right", "zindex": 1,
"values": [1850, 1765, 1721, 1703.6, 1687.4, 1671.8, 1656.3, 1640.8, 1575, 1455],
"grid": false, "domain": false,
"tickSize": 33, "tickWidth": 9, "tickCap": "butt", "tickOpacity": 1,
"tickColor": {"condition": [
{"test": "datum.value >= 1700", "value": "#6a1111"},
{"test": "datum.value > 1660", "value": "#26a69a"},
{"test": "datum.value > 1650", "value": "#f23645"}], "value": "#4caf50"},
"labelPadding": -31, "labelAlign": "left", "labelBaseline": "middle", "labelColor": "#ffffff", "labelFontSize": 7, "labelFont": "Roboto",
"labelOverlap": false, "labelBound": false, "labelFlush": false,
"labelExpr": "datum.value == 1687.4 ? '1694.90' : datum.value == 1671.8 ? '08:03:07' : datum.value == 1656.3 ? '1680.00' : datum.value == 1640.8 ? '1645.00' : format(datum.value, '.2f')"}}
}
}
],
"resolve": {"scale": {"y": "independent"}, "axis": {"y": "independent"}}
}
